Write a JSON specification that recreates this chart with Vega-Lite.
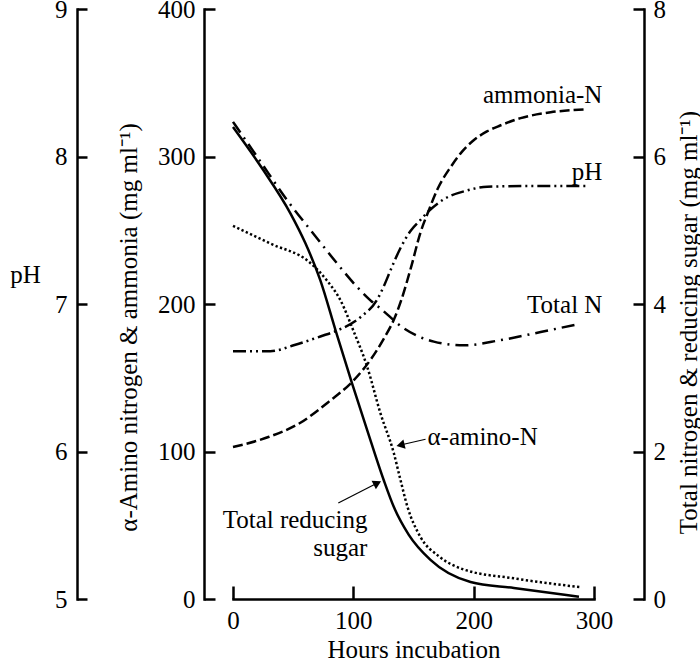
{
  "$schema": "https://vega.github.io/schema/vega-lite/v6.json",
  "width": 361,
  "height": 590,
  "autosize": {"type": "none"},
  "padding": {"left": 233, "top": 9, "right": 106, "bottom": 61},
  "background": "white",
  "config": {
    "view": {"stroke": null},
    "font": "Liberation Serif",
    "axis": {
      "grid": false,
      "domainColor": "black",
      "tickColor": "black",
      "domainWidth": 2.5,
      "tickWidth": 2.5,
      "domainCap": "square",
      "labelColor": "black",
      "titleColor": "black",
      "labelFont": "Liberation Serif",
      "titleFont": "Liberation Serif",
      "labelFontSize": 25,
      "titleFontSize": 25,
      "titleFontWeight": "normal",
      "labelFlush": false,
      "labelOverlap": false
    }
  },
  "datasets": {
    "curves": [
      {"series": "ammonia-N", "hours": 0, "value": 103},
      {"series": "ammonia-N", "hours": 30, "value": 110},
      {"series": "ammonia-N", "hours": 55, "value": 119},
      {"series": "ammonia-N", "hours": 80, "value": 134},
      {"series": "ammonia-N", "hours": 100, "value": 148},
      {"series": "ammonia-N", "hours": 115, "value": 163},
      {"series": "ammonia-N", "hours": 125, "value": 176},
      {"series": "ammonia-N", "hours": 134, "value": 190},
      {"series": "ammonia-N", "hours": 140, "value": 203},
      {"series": "ammonia-N", "hours": 148, "value": 225},
      {"series": "ammonia-N", "hours": 156, "value": 249},
      {"series": "ammonia-N", "hours": 162, "value": 262},
      {"series": "ammonia-N", "hours": 170, "value": 278},
      {"series": "ammonia-N", "hours": 181, "value": 293},
      {"series": "ammonia-N", "hours": 190, "value": 303},
      {"series": "ammonia-N", "hours": 200, "value": 311},
      {"series": "ammonia-N", "hours": 211, "value": 317},
      {"series": "ammonia-N", "hours": 222, "value": 321},
      {"series": "ammonia-N", "hours": 239, "value": 326},
      {"series": "ammonia-N", "hours": 264, "value": 330},
      {"series": "ammonia-N", "hours": 293, "value": 332},
      {"series": "alpha-amino-N", "hours": 0, "value": 253},
      {"series": "alpha-amino-N", "hours": 31, "value": 241},
      {"series": "alpha-amino-N", "hours": 64, "value": 228},
      {"series": "alpha-amino-N", "hours": 78, "value": 216},
      {"series": "alpha-amino-N", "hours": 89, "value": 203},
      {"series": "alpha-amino-N", "hours": 100, "value": 182},
      {"series": "alpha-amino-N", "hours": 111.5, "value": 157.5},
      {"series": "alpha-amino-N", "hours": 122.5, "value": 126},
      {"series": "alpha-amino-N", "hours": 133.6, "value": 99},
      {"series": "alpha-amino-N", "hours": 138.5, "value": 83},
      {"series": "alpha-amino-N", "hours": 144.8, "value": 63},
      {"series": "alpha-amino-N", "hours": 155.8, "value": 42},
      {"series": "alpha-amino-N", "hours": 171, "value": 29},
      {"series": "alpha-amino-N", "hours": 191.8, "value": 20},
      {"series": "alpha-amino-N", "hours": 233.4, "value": 14},
      {"series": "alpha-amino-N", "hours": 289, "value": 8},
      {"series": "Total reducing sugar", "hours": 0, "value": 6.40},
      {"series": "Total reducing sugar", "hours": 25, "value": 5.82},
      {"series": "Total reducing sugar", "hours": 47.7, "value": 5.23},
      {"series": "Total reducing sugar", "hours": 60, "value": 4.83},
      {"series": "Total reducing sugar", "hours": 72.6, "value": 4.32},
      {"series": "Total reducing sugar", "hours": 85.1, "value": 3.65},
      {"series": "Total reducing sugar", "hours": 99, "value": 2.92},
      {"series": "Total reducing sugar", "hours": 111.5, "value": 2.29},
      {"series": "Total reducing sugar", "hours": 125.3, "value": 1.61},
      {"series": "Total reducing sugar", "hours": 133.6, "value": 1.25},
      {"series": "Total reducing sugar", "hours": 146.1, "value": 0.87},
      {"series": "Total reducing sugar", "hours": 164.1, "value": 0.53},
      {"series": "Total reducing sugar", "hours": 197.4, "value": 0.23},
      {"series": "Total reducing sugar", "hours": 233.4, "value": 0.15},
      {"series": "Total reducing sugar", "hours": 287.5, "value": 0.03},
      {"series": "Total N", "hours": 0, "value": 6.47},
      {"series": "Total N", "hours": 22, "value": 5.95},
      {"series": "Total N", "hours": 44.9, "value": 5.41},
      {"series": "Total N", "hours": 66, "value": 4.97},
      {"series": "Total N", "hours": 86.5, "value": 4.55},
      {"series": "Total N", "hours": 103.2, "value": 4.23},
      {"series": "Total N", "hours": 114.2, "value": 4.05},
      {"series": "Total N", "hours": 122.5, "value": 3.94},
      {"series": "Total N", "hours": 142, "value": 3.67},
      {"series": "Total N", "hours": 166.9, "value": 3.49},
      {"series": "Total N", "hours": 191.8, "value": 3.44},
      {"series": "Total N", "hours": 222.4, "value": 3.51},
      {"series": "Total N", "hours": 255.7, "value": 3.62},
      {"series": "Total N", "hours": 285, "value": 3.72},
      {"series": "pH", "hours": 0, "value": 6.68},
      {"series": "pH", "hours": 31, "value": 6.68},
      {"series": "pH", "hours": 50.4, "value": 6.72},
      {"series": "pH", "hours": 72.6, "value": 6.78},
      {"series": "pH", "hours": 86.5, "value": 6.82},
      {"series": "pH", "hours": 105.9, "value": 6.91},
      {"series": "pH", "hours": 119.8, "value": 7.03},
      {"series": "pH", "hours": 125.3, "value": 7.12},
      {"series": "pH", "hours": 132, "value": 7.25},
      {"series": "pH", "hours": 139.2, "value": 7.38},
      {"series": "pH", "hours": 148, "value": 7.50},
      {"series": "pH", "hours": 155.8, "value": 7.57},
      {"series": "pH", "hours": 161.4, "value": 7.62},
      {"series": "pH", "hours": 175.2, "value": 7.71},
      {"series": "pH", "hours": 194.7, "value": 7.77},
      {"series": "pH", "hours": 211.3, "value": 7.795},
      {"series": "pH", "hours": 250, "value": 7.80},
      {"series": "pH", "hours": 293, "value": 7.80}
    ],
    "labels": [
      {"label": "ammonia-N", "hours": 307, "value": 342},
      {"label": "pH", "hours": 307, "value": 289.5},
      {"label": "Total N", "hours": 307, "value": 199},
      {"label": "Total reducing", "hours": 111.7, "value": 53.6},
      {"label": "sugar", "hours": 111.7, "value": 34.6},
      {"label": "α-amino-N", "hours": 161.6, "value": 109.8}
    ],
    "arrows": [
      {"label": "α-amino-N", "hours": 160, "value": 108.3, "hours2": 139.2, "value2": 104.4},
      {"label": "Total reducing sugar", "hours": 87.5, "value": 65.1, "hours2": 120, "value2": 78.6}
    ]
  },
  "layer": [
    {
      "layer": [
        {
          "data": {"name": "curves"},
          "transform": [{"filter": "datum.series === 'ammonia-N'"}],
          "mark": {"type": "line", "color": "black", "strokeWidth": 2.5, "strokeDash": [10, 4], "interpolate": "monotone"},
          "encoding": {
            "x": {"field": "hours", "type": "quantitative", "scale": {"domain": [0, 300], "nice": false},
              "axis": {"values": [0, 100, 200, 300], "tickSize": -13, "labelPadding": 22, "title": "Hours incubation", "titleY": 58, "titleBaseline": "alphabetic"}},
            "y": {"field": "value", "type": "quantitative", "scale": {"domain": [0, 400], "nice": false, "zero": false},
              "axis": {"orient": "left", "offset": 29, "values": [0, 100, 200, 300, 400], "tickSize": -11, "labelPadding": 20,
                "title": "α-Amino nitrogen & ammonia (mg ml⁻¹)", "titleAngle": -90, "titleX": -76, "titleY": 318, "titleAlign": "center", "titleBaseline": "middle"}}
          }
        },
        {
          "data": {"name": "curves"},
          "transform": [{"filter": "datum.series === 'alpha-amino-N'"}],
          "mark": {"type": "line", "color": "black", "strokeWidth": 2.5, "strokeDash": [2.3, 2.4], "interpolate": "monotone"},
          "encoding": {
            "x": {"field": "hours", "type": "quantitative", "scale": {"domain": [0, 300], "nice": false},
              "axis": {"values": [0, 100, 200, 300], "tickSize": -13, "labelPadding": 22, "title": "Hours incubation", "titleY": 58, "titleBaseline": "alphabetic"}},
            "y": {"field": "value", "type": "quantitative", "scale": {"domain": [0, 400], "nice": false, "zero": false},
              "axis": {"orient": "left", "offset": 29, "values": [0, 100, 200, 300, 400], "tickSize": -11, "labelPadding": 20,
                "title": "α-Amino nitrogen & ammonia (mg ml⁻¹)", "titleAngle": -90, "titleX": -76, "titleY": 318, "titleAlign": "center", "titleBaseline": "middle"}}
          }
        },
        {
          "data": {"name": "labels"},
          "transform": [{"filter": "datum.label !== 'α-amino-N'"}],
          "mark": {"type": "text", "align": "right", "baseline": "middle", "font": "Liberation Serif", "fontSize": 25, "color": "black"},
          "encoding": {
            "x": {"field": "hours", "type": "quantitative", "scale": {"domain": [0, 300], "nice": false},
              "axis": {"values": [0, 100, 200, 300], "tickSize": -13, "labelPadding": 22, "title": "Hours incubation", "titleY": 58, "titleBaseline": "alphabetic"}},
            "y": {"field": "value", "type": "quantitative", "scale": {"domain": [0, 400], "nice": false, "zero": false},
              "axis": {"orient": "left", "offset": 29, "values": [0, 100, 200, 300, 400], "tickSize": -11, "labelPadding": 20,
                "title": "α-Amino nitrogen & ammonia (mg ml⁻¹)", "titleAngle": -90, "titleX": -76, "titleY": 318, "titleAlign": "center", "titleBaseline": "middle"}},
            "text": {"field": "label"}
          }
        },
        {
          "data": {"name": "labels"},
          "transform": [{"filter": "datum.label === 'α-amino-N'"}],
          "mark": {"type": "text", "align": "left", "baseline": "middle", "font": "Liberation Serif", "fontSize": 25, "color": "black"},
          "encoding": {
            "x": {"field": "hours", "type": "quantitative", "scale": {"domain": [0, 300], "nice": false},
              "axis": {"values": [0, 100, 200, 300], "tickSize": -13, "labelPadding": 22, "title": "Hours incubation", "titleY": 58, "titleBaseline": "alphabetic"}},
            "y": {"field": "value", "type": "quantitative", "scale": {"domain": [0, 400], "nice": false, "zero": false},
              "axis": {"orient": "left", "offset": 29, "values": [0, 100, 200, 300, 400], "tickSize": -11, "labelPadding": 20,
                "title": "α-Amino nitrogen & ammonia (mg ml⁻¹)", "titleAngle": -90, "titleX": -76, "titleY": 318, "titleAlign": "center", "titleBaseline": "middle"}},
            "text": {"field": "label"}
          }
        },
        {
          "data": {"name": "arrows"},
          "mark": {"type": "rule", "color": "black", "strokeWidth": 1.2},
          "encoding": {
            "x": {"field": "hours", "type": "quantitative", "scale": {"domain": [0, 300], "nice": false},
              "axis": {"values": [0, 100, 200, 300], "tickSize": -13, "labelPadding": 22, "title": "Hours incubation", "titleY": 58, "titleBaseline": "alphabetic"}},
            "y": {"field": "value", "type": "quantitative", "scale": {"domain": [0, 400], "nice": false, "zero": false},
              "axis": {"orient": "left", "offset": 29, "values": [0, 100, 200, 300, 400], "tickSize": -11, "labelPadding": 20,
                "title": "α-Amino nitrogen & ammonia (mg ml⁻¹)", "titleAngle": -90, "titleX": -76, "titleY": 318, "titleAlign": "center", "titleBaseline": "middle"}},
            "x2": {"field": "hours2"},
            "y2": {"field": "value2"}
          }
        },
        {
          "data": {"name": "arrows"},
          "transform": [{"filter": "datum.label === 'α-amino-N'"}],
          "mark": {"type": "point", "shape": "triangle-up", "filled": true, "size": 90, "angle": 256.5, "color": "black", "opacity": 1},
          "encoding": {
            "x": {"field": "hours2", "type": "quantitative", "scale": {"domain": [0, 300], "nice": false},
              "axis": {"values": [0, 100, 200, 300], "tickSize": -13, "labelPadding": 22, "title": "Hours incubation", "titleY": 58, "titleBaseline": "alphabetic"}},
            "y": {"field": "value2", "type": "quantitative", "scale": {"domain": [0, 400], "nice": false, "zero": false},
              "axis": {"orient": "left", "offset": 29, "values": [0, 100, 200, 300, 400], "tickSize": -11, "labelPadding": 20,
                "title": "α-Amino nitrogen & ammonia (mg ml⁻¹)", "titleAngle": -90, "titleX": -76, "titleY": 318, "titleAlign": "center", "titleBaseline": "middle"}}
          }
        },
        {
          "data": {"name": "arrows"},
          "transform": [{"filter": "datum.label === 'Total reducing sugar'"}],
          "mark": {"type": "point", "shape": "triangle-up", "filled": true, "size": 90, "angle": 62.9, "color": "black", "opacity": 1},
          "encoding": {
            "x": {"field": "hours2", "type": "quantitative", "scale": {"domain": [0, 300], "nice": false},
              "axis": {"values": [0, 100, 200, 300], "tickSize": -13, "labelPadding": 22, "title": "Hours incubation", "titleY": 58, "titleBaseline": "alphabetic"}},
            "y": {"field": "value2", "type": "quantitative", "scale": {"domain": [0, 400], "nice": false, "zero": false},
              "axis": {"orient": "left", "offset": 29, "values": [0, 100, 200, 300, 400], "tickSize": -11, "labelPadding": 20,
                "title": "α-Amino nitrogen & ammonia (mg ml⁻¹)", "titleAngle": -90, "titleX": -76, "titleY": 318, "titleAlign": "center", "titleBaseline": "middle"}}
          }
        }
      ]
    },
    {
      "layer": [
        {
          "data": {"name": "curves"},
          "transform": [{"filter": "datum.series === 'Total reducing sugar'"}],
          "mark": {"type": "line", "color": "black", "strokeWidth": 2.5, "interpolate": "monotone"},
          "encoding": {
            "x": {"field": "hours", "type": "quantitative", "scale": {"domain": [0, 300], "nice": false},
              "axis": {"values": [0, 100, 200, 300], "tickSize": -13, "labelPadding": 22, "title": "Hours incubation", "titleY": 58, "titleBaseline": "alphabetic"}},
            "y": {"field": "value", "type": "quantitative", "scale": {"domain": [0, 8], "nice": false, "zero": false},
              "axis": {"orient": "right", "offset": 50, "values": [0, 2, 4, 6, 8], "tickSize": -11, "labelPadding": 20,
                "title": "Total nitrogen & reducing sugar (mg ml⁻¹)", "titleAngle": -90, "titleX": 44, "titleY": 313, "titleAlign": "center", "titleBaseline": "middle"}}
          }
        },
        {
          "data": {"name": "curves"},
          "transform": [{"filter": "datum.series === 'Total N'"}],
          "mark": {"type": "line", "color": "black", "strokeWidth": 2.5, "strokeDash": [13, 6, 2, 6], "interpolate": "monotone"},
          "encoding": {
            "x": {"field": "hours", "type": "quantitative", "scale": {"domain": [0, 300], "nice": false},
              "axis": {"values": [0, 100, 200, 300], "tickSize": -13, "labelPadding": 22, "title": "Hours incubation", "titleY": 58, "titleBaseline": "alphabetic"}},
            "y": {"field": "value", "type": "quantitative", "scale": {"domain": [0, 8], "nice": false, "zero": false},
              "axis": {"orient": "right", "offset": 50, "values": [0, 2, 4, 6, 8], "tickSize": -11, "labelPadding": 20,
                "title": "Total nitrogen & reducing sugar (mg ml⁻¹)", "titleAngle": -90, "titleX": 44, "titleY": 313, "titleAlign": "center", "titleBaseline": "middle"}}
          }
        }
      ]
    },
    {
      "data": {"name": "curves"},
      "transform": [{"filter": "datum.series === 'pH'"}],
      "mark": {"type": "line", "color": "black", "strokeWidth": 2.5, "strokeDash": [13, 4, 2, 4, 2, 4], "interpolate": "monotone"},
      "encoding": {
        "x": {"field": "hours", "type": "quantitative", "scale": {"domain": [0, 300], "nice": false},
          "axis": {"values": [0, 100, 200, 300], "tickSize": -13, "labelPadding": 22, "title": "Hours incubation", "titleY": 58, "titleBaseline": "alphabetic"}},
        "y": {"field": "value", "type": "quantitative", "scale": {"domain": [5, 9], "nice": false, "zero": false},
          "axis": {"orient": "left", "offset": 156, "values": [5, 6, 7, 8, 9], "tickSize": -10, "labelPadding": 20,
            "title": "pH", "titleAngle": 0, "titleX": -52, "titleY": 265, "titleAlign": "center", "titleBaseline": "middle"}}
      }
    }
  ],
  "resolve": {"scale": {"y": "independent"}, "axis": {"y": "independent"}}
}
